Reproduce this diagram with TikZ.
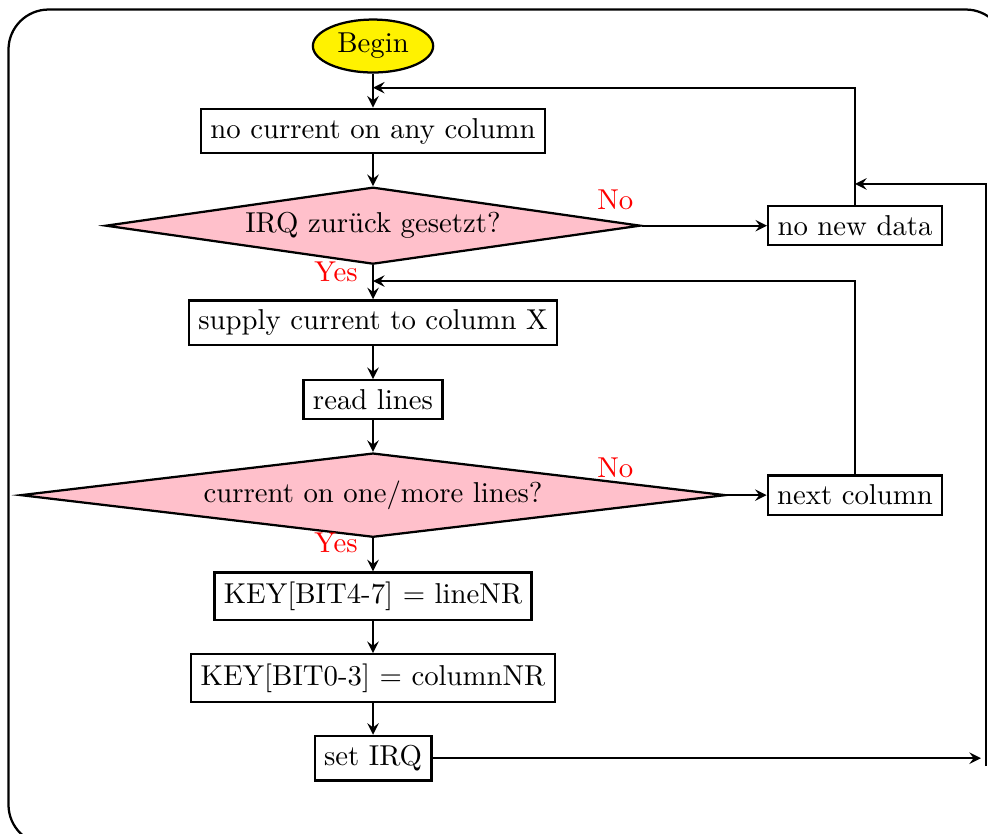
\documentclass[tikz,border=0pt]{standalone}
\usetikzlibrary{shapes.geometric}
\definecolor{softpink}{RGB}{255,192,203}
\begin{document}
\begin{tikzpicture}[>=stealth, thick,
  font=\fontsize{10.2}{12.2}\selectfont,
  startstop/.style={ellipse,draw,fill=yellow,inner sep=0pt,minimum width=1.5cm,minimum height=0.66cm},
  block/.style={rectangle,draw,fill=white},
  decision/.style={diamond,draw,fill=softpink,aspect=7,inner sep=0pt},
  answer/.style={text=red}]

%page size and frame
    \useasboundingbox (-4.651,0.574) rectangle (7.668,-9.825);
    \draw[rounded corners=0.5cm] (-4.545,0.455) rectangle (7.89,-9.96);

%main column
    \node[startstop] (begin) at (0,0) {Begin};
    \node[block] (nocurr) at (0,-1.06) {no current on any column};
    \node[decision,minimum width=6.67cm,minimum height=0.96cm] (irq) at (0,-2.24) {IRQ zurück gesetzt?};
    \node[block] (supply) at (0,-3.45) {supply current to column X};
    \node[block] (read) at (0,-4.41) {read lines};
    \node[decision,minimum width=8.79cm,minimum height=1.05cm] (more) at (0,-5.60) {current on one/more lines?};
    \node[block] (key47) at (0,-6.86) {KEY[BIT4-7] = lineNR};
    \node[block] (key03) at (0,-7.88) {KEY[BIT0-3] = columnNR};
    \node[block] (setirq) at (0,-8.88) {set IRQ};

%side column
    \node[block] (nonew) at (6.01,-2.24) {no new data};
    \node[block] (nextcol) at (6.01,-5.60) {next column};

%answers
    \node[answer] (no1) at (3.02,-1.92) {No};
    \node[answer] (yes1) at (-0.46,-2.82) {Yes};
    \node[answer] (no2) at (3.02,-5.26) {No};
    \node[answer] (yes2) at (-0.46,-6.20) {Yes};

%points of the loops
    \coordinate (j1) at (0,-0.52);
    \coordinate (j2) at (0,-2.93);
    \coordinate (j3) at (7.58,-8.88);
    \coordinate (j4) at (7.64,-8.98);
    \coordinate (j5) at (6.01,-1.72);

%draw flow
    \draw[->] (begin) -- (nocurr);
    \draw[->] (nocurr) -- (irq);
    \draw[->] (irq) -- (supply);
    \draw[->] (irq) -- (nonew);
    \draw[->] (supply) -- (read);
    \draw[->] (read) -- (more);
    \draw[->] (more) -- (nextcol);
    \draw[->] (more) -- (key47);
    \draw[->] (key47) -- (key03);
    \draw[->] (key03) -- (setirq);
%draw loops back
    \draw[->] (nonew) |- (j1);
    \draw[->] (nextcol) |- (j2);
    \draw[->] (setirq) -- (j3);
    \draw[->] (j4) |- (j5);

\end{tikzpicture}
\end{document}
